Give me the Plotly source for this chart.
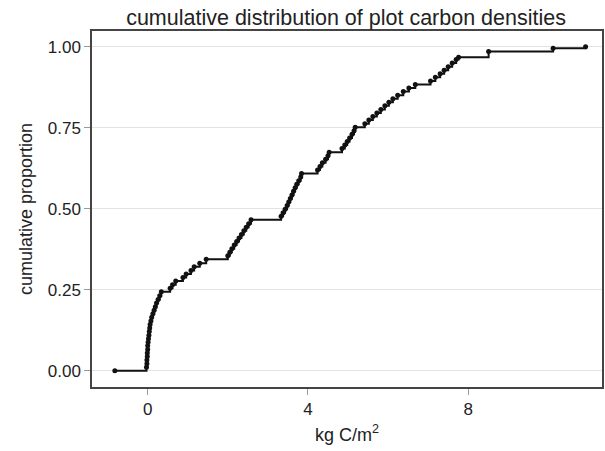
import plotly.graph_objects as go

# Cumulative distribution values
carbon_kg_m2 = [
    -0.82,
    -0.03, -0.02, -0.02, -0.01, -0.01, 0.00, 0.00, 0.01, 0.02, 0.03, 0.04,
    0.05, 0.06, 0.08, 0.10, 0.13, 0.16, 0.19, 0.22, 0.26, 0.30, 0.34,
    0.56, 0.62, 0.70, 0.88, 0.96, 1.08, 1.16, 1.30, 1.46,
    2.00, 2.05, 2.10, 2.16, 2.22, 2.28, 2.34, 2.40, 2.46, 2.52, 2.58,
    3.33, 3.38, 3.43, 3.48, 3.52, 3.56, 3.60, 3.64, 3.68, 3.72, 3.77, 3.82, 3.84,
    4.24, 4.30, 4.36, 4.44, 4.50, 4.53,
    4.85, 4.92, 4.98, 5.04, 5.10, 5.15, 5.18,
    5.42, 5.52, 5.62, 5.72, 5.82, 5.92, 6.02, 6.12, 6.24, 6.38, 6.52, 6.68,
    7.06, 7.18, 7.30, 7.40, 7.50, 7.60, 7.70, 7.76,
    8.51, 10.12, 10.93,
]
cum_proportion = [
    0.000,
    0.011, 0.022, 0.033, 0.044, 0.055, 0.066, 0.077, 0.088, 0.099, 0.110, 0.121,
    0.132, 0.143, 0.154, 0.165, 0.176, 0.187, 0.198, 0.209, 0.220, 0.232, 0.244,
    0.255, 0.266, 0.277, 0.288, 0.299, 0.310, 0.321, 0.332, 0.344,
    0.355, 0.366, 0.377, 0.388, 0.399, 0.410, 0.421, 0.432, 0.443, 0.454, 0.466,
    0.477, 0.488, 0.499, 0.510, 0.521, 0.532, 0.543, 0.554, 0.565, 0.576, 0.587, 0.598, 0.609,
    0.620, 0.631, 0.642, 0.653, 0.664, 0.675,
    0.686, 0.697, 0.708, 0.719, 0.730, 0.741, 0.752,
    0.763, 0.774, 0.785, 0.796, 0.807, 0.818, 0.829, 0.840, 0.851, 0.862, 0.873, 0.884,
    0.895, 0.906, 0.917, 0.928, 0.939, 0.950, 0.961, 0.968,
    0.986, 0.996, 1.000,
]

x_ticks = [0, 4, 8]
y_ticks = [0.0, 0.25, 0.5, 0.75, 1.0]
y_tick_labels = ["0.00", "0.25", "0.50", "0.75", "1.00"]

font_family = "Liberation Sans, Arial, sans-serif"

fig = go.Figure()
fig.add_trace(go.Scatter(
    x=carbon_kg_m2, y=cum_proportion,
    mode="lines+markers",
    line=dict(shape="hv", color="#111111", width=2),
    marker=dict(size=5, color="#111111"),
    showlegend=False,
))

fig.update_layout(
    width=605, height=451,
    margin=dict(l=92, r=1, t=31, b=64),
    paper_bgcolor="white", plot_bgcolor="white",
    font=dict(family=font_family, size=17, color="#222222"),
    title=dict(text="cumulative distribution of plot carbon densities",
               x=0.572, xanchor="center", y=0.962, yanchor="middle",
               font=dict(size=21.5, color="#222222")),
)
fig.update_xaxes(
    range=[-1.39, 11.34], tickvals=x_ticks, ticktext=[str(v) for v in x_ticks],
    showgrid=False, zeroline=False,
    ticks="outside", ticklen=6, tickcolor="#999999",
    tickfont=dict(size=17),
    showline=True, linecolor="#444444", linewidth=1.5, mirror=True,
    title=dict(text="kg C/m<sup>2</sup>", standoff=10, font=dict(size=18)),
)
fig.update_yaxes(
    range=[-0.05, 1.049], tickvals=y_ticks, ticktext=y_tick_labels,
    showgrid=True, gridcolor="#e3e3e3", gridwidth=1, zeroline=False,
    ticks="outside", ticklen=6, tickcolor="#999999",
    tickfont=dict(size=17),
    showline=True, linecolor="#444444", linewidth=1.5, mirror=True,
    title=dict(text="cumulative proportion", standoff=10, font=dict(size=18)),
)

fig.write_html("out.html")
